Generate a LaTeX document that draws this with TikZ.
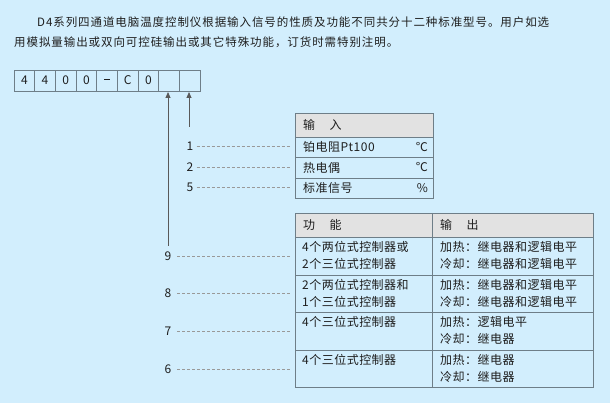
\documentclass[tikz,border=0pt]{standalone}
\usepackage{fontspec}
\setmainfont{Noto Sans CJK SC}
\usetikzlibrary{arrows.meta}
\definecolor{bg}{HTML}{D2EEFD}
\definecolor{hd}{HTML}{E2E2E2}
\definecolor{bd}{HTML}{6E7E88}
\definecolor{tx}{HTML}{1E1E1E}
\tikzset{
  cell/.style={draw=bd,line width=0.9pt},
  t/.style={inner sep=0pt,anchor=west,font=\addfontfeature{LetterSpace=4}\fontsize{12}{14}\selectfont,text=tx},
  num/.style={inner sep=0pt,font=\fontsize{12}{14}\selectfont,text=tx},
  dl/.style={draw=gray!80,dashed,dash pattern=on 3pt off 2pt,line width=0.6pt},
  arr/.style={draw=gray!70!black,line width=0.8pt,-{Triangle[length=6pt,width=5pt]}},
}
\begin{document}
\begin{tikzpicture}[x=1pt,y=-1pt]
\fill[bg] (0,0) rectangle (610,403);
\useasboundingbox (0,0) rectangle (610,403);
\node[t,anchor=west] (p1) at (37,22) {\addfontfeature{LetterSpace=8}\fontsize{11.5}{13}\selectfont D4系列四通道电脑温度控制仪根据输入信号的性质及功能不同共分十二种标准型号。用户如选};
\node[t,anchor=west] (p2) at (14,42) {\addfontfeature{LetterSpace=8}\fontsize{11.5}{13}\selectfont 用模拟量输出或双向可控硅输出或其它特殊功能，订货时需特别注明。};
% code boxes
\foreach \i/\s in {0/4,1/4,2/0,3/0,4/{\rule[0.3ex]{0.5em}{0.9pt}},5/C,6/0,7/,8/} {
  \draw[cell,fill=bg] ({14+\i*20.67},70) rectangle ({14+(\i+1)*20.67},91);
  \node[num] (c\i) at ({14+(\i+0.5)*20.67},80.5) {\s};
}
\coordinate (aL) at (168,246);
\coordinate (aR) at (189,127);
\draw[arr] (aL) -- (168,92);
\draw[arr] (aR) -- (189,92);
% top table
\fill[hd] (295,113) rectangle (433,137);
\draw[cell] (295,113) rectangle (433,198);
\foreach \y in {137,157,178} \draw[cell] (295,\y) -- (433,\y);
\node[t] (h1) at (303,125) {输\hspace{1.2em}入};
\node[t] (r1) at (303,147) {铂电阻Pt100}; \node[num,anchor=east] at (428,147) {℃};
\node[t] (r2) at (303,167.5) {热电偶}; \node[num,anchor=east] at (428,167.5) {℃};
\node[t] (r3) at (303,188) {标准信号}; \node[num,anchor=east] at (428,188) {\%};
\foreach \n/\y/\r in {1/146/r1,2/167/r2,5/187/r3} {
  \node[num] (n\n) at (190,\y) {\n};
  \draw[dl] (n\n.east) ++(3,0) -- (291,\y);
}
% bottom table
\fill[hd] (295,213) rectangle (593,237);
\draw[cell] (295,213) rectangle (593,387);
\draw[cell] (432,213) -- (432,387);
\foreach \y in {237,275,312,350} \draw[cell] (295,\y) -- (593,\y);
\node[t] at (303,225) {功\hspace{1.2em}能};
\node[t] at (440,225) {输\hspace{1.2em}出};
\node[t] at (302,247) {4个两位式控制器或};
\node[t] at (302,264) {2个三位式控制器};
\node[t] at (440,247) {加热：继电器和逻辑电平};
\node[t] at (440,264) {冷却：继电器和逻辑电平};
\node[t] at (302,285) {2个两位式控制器和};
\node[t] at (302,302) {1个三位式控制器};
\node[t] at (440,285) {加热：继电器和逻辑电平};
\node[t] at (440,302) {冷却：继电器和逻辑电平};
\node[t] at (302,322) {4个三位式控制器};
\node[t] at (440,322) {加热：逻辑电平};
\node[t] at (440,339) {冷却：继电器};
\node[t] at (302,360) {4个三位式控制器};
\node[t] at (440,360) {加热：继电器};
\node[t] at (440,377) {冷却：继电器};
\foreach \n/\y in {9/256,8/293,7/331,6/369} {
  \node[num] (m\n) at (168,\y) {\n};
  \draw[dl] (177,\y) -- (290,\y);
}
\end{tikzpicture}
\end{document}
